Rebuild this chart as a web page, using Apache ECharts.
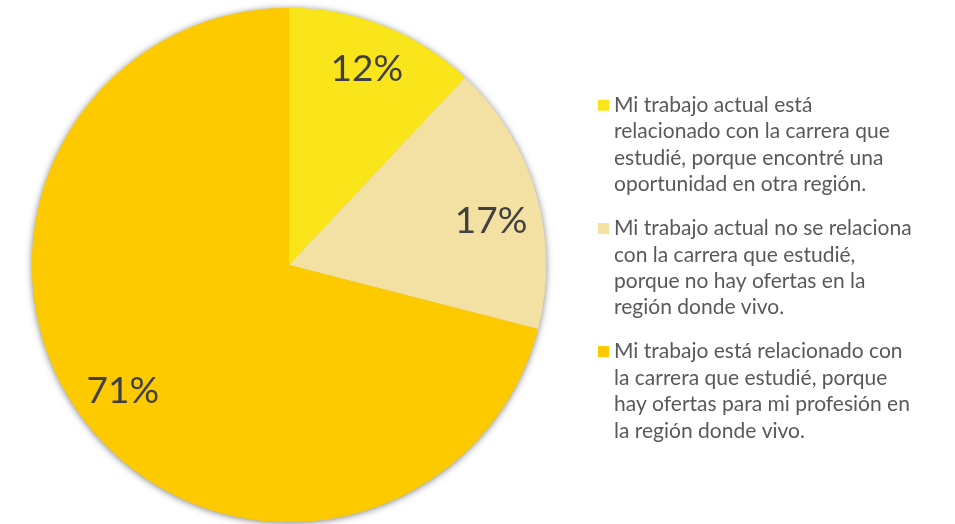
<!DOCTYPE html>
<html>
<head>
<meta charset="utf-8">
<script src="https://cdn.jsdelivr.net/npm/echarts@6/dist/echarts.min.js"></script>
<style>
  html, body { margin: 0; padding: 0; background: #fff; }
  #chart { width: 955px; height: 524px; }
</style>
</head>
<body>
<div id="chart"></div>
<script>
// Survey answers: relation between current job and studied career
const categories = [
  'Mi trabajo actual está\nrelacionado con la carrera que\nestudié, porque encontré una\noportunidad en otra región.',
  'Mi trabajo actual no se relaciona\ncon la carrera que estudié,\nporque no hay ofertas en la\nregión donde vivo.',
  'Mi trabajo está relacionado con\nla carrera que estudié, porque\nhay ofertas para mi profesión en\nla región donde vivo.'
];
const values = [12, 17, 71];
const colors = ['#F9E51A', '#F3E1A4', '#FDCA00'];

// Layout
const CENTER = [289, 265];
const RADIUS = 257;
const LINE_H = 26.4;
const BLOCK_H = LINE_H * 4;
const LABEL_OFFSETS = [[0, 1], [-1, 15], [1, -4]];

// Legend marker: square on the first text line, box stretched to the text block height
const mid = LINE_H / 2;
const legendIcon = 'path://M0,' + (mid - 5.5) + 'L11,' + (mid - 5.5) + 'L11,' + (mid + 5.5) +
  'L0,' + (mid + 5.5) + 'Z M0,0L0.01,0 M0,' + BLOCK_H + 'L0.01,' + BLOCK_H;

const pieData = categories.map((name, i) => ({
  name: name,
  value: values[i],
  itemStyle: { color: colors[i] }
}));

const labelData = categories.map((name, i) => ({
  name: name,
  value: values[i],
  label: { offset: LABEL_OFFSETS[i] }
}));

const pieBase = {
  type: 'pie',
  center: CENTER,
  startAngle: 90,
  clockwise: true,
  silent: true,
  legendHoverLink: false,
  labelLine: { show: false }
};

const chart = echarts.init(document.getElementById('chart'), null, { renderer: 'canvas' });
chart.setOption({
  animation: false,
  backgroundColor: '#ffffff',
  legend: {
    orient: 'vertical',
    left: 598,
    top: 92,
    padding: 0,
    itemGap: 17.6,
    itemWidth: 11,
    itemHeight: BLOCK_H,
    icon: legendIcon,
    itemStyle: { borderWidth: 0 },
    data: categories,
    textStyle: {
      fontFamily: 'Lato',
      fontSize: 21,
      lineHeight: LINE_H,
      color: '#595959'
    }
  },
  series: [
    {
      // soft outer shadow, covered by the slices above it
      ...pieBase,
      name: 'shadow',
      z: 1,
      radius: [0, RADIUS],
      label: { show: false },
      itemStyle: {
        borderWidth: 0,
        shadowBlur: 7,
        shadowColor: 'rgba(0,0,0,0.5)',
        shadowOffsetY: 1
      },
      data: pieData
    },
    {
      ...pieBase,
      name: 'slices',
      z: 2,
      radius: [0, RADIUS],
      label: { show: false },
      itemStyle: { borderWidth: 0 },
      data: pieData
    },
    {
      // transparent ring that places the percentage labels
      ...pieBase,
      name: 'labels',
      z: 3,
      radius: [160, RADIUS],
      itemStyle: { color: 'rgba(0,0,0,0)', borderWidth: 0 },
      label: {
        show: true,
        position: 'inside',
        formatter: p => p.value + '%',
        fontFamily: 'Lato',
        fontSize: 37,
        color: '#404040'
      },
      data: labelData
    }
  ]
});
</script>
</body>
</html>
